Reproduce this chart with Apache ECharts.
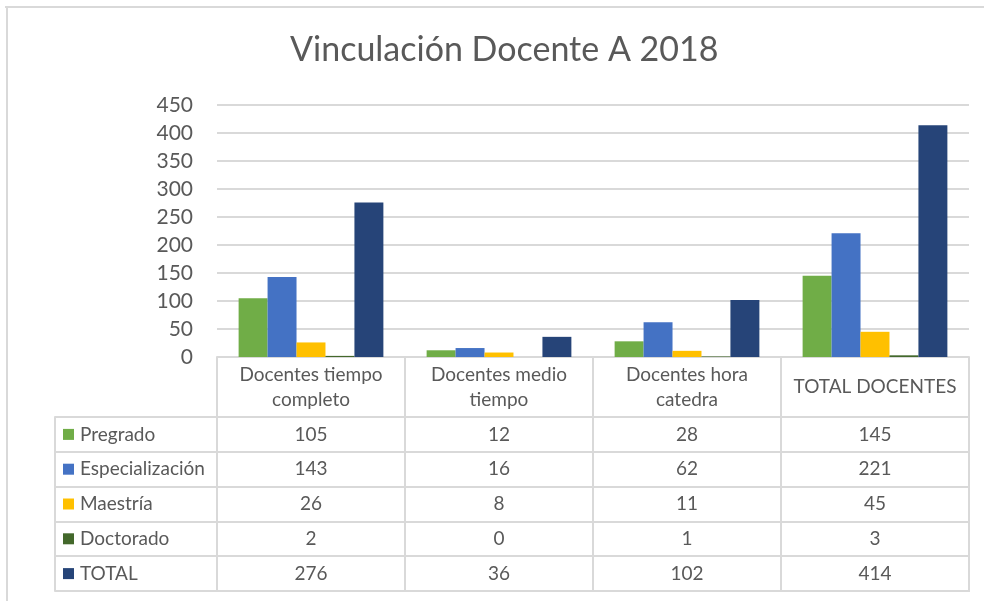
<!DOCTYPE html>
<html>
<head>
<meta charset="utf-8">
<script src="https://cdn.jsdelivr.net/npm/echarts@6/dist/echarts.min.js"></script>
<style>html,body{margin:0;padding:0;background:#fff;}#c{width:984px;height:601px;}</style>
</head>
<body>
<div id="c"></div>
<script>
const titleText = 'Vinculación Docente A 2018';
const categories = ['Docentes tiempo\ncompleto', 'Docentes medio\ntiempo', 'Docentes hora\ncatedra', 'TOTAL DOCENTES'];
const seriesNames = ['Pregrado', 'Especialización', 'Maestría', 'Doctorado', 'TOTAL'];
const pregrado = [105, 12, 28, 145];
const especializacion = [143, 16, 62, 221];
const maestria = [26, 8, 11, 45];
const doctorado = [2, 0, 1, 3];
const total = [276, 36, 102, 414];
const yTicks = [0, 50, 100, 150, 200, 250, 300, 350, 400, 450];
const colors = ['#70AD47', '#4472C4', '#FFC000', '#43682B', '#264478'];

const allValues = [pregrado, especializacion, maestria, doctorado, total];
const font = 'Lato, "Open Sans", sans-serif';
const txt = '#595959';
const lineC = '#d9d9d9';

const tableData = [];
allValues.forEach((arr, j) => arr.forEach((v, i) => tableData.push([i, j, v])));

const rich = { t: { fontSize: 19, color: txt, fontFamily: font, padding: [0, 0, 0, 6] } };
colors.forEach((c, i) => { rich['s' + i] = { width: 11, height: 11, backgroundColor: c }; });

const chart = echarts.init(document.getElementById('c'));
chart.setOption({
  animation: false,
  backgroundColor: '#fff',
  title: {
    text: titleText, left: 290, top: 33, padding: 0,
    textStyle: { fontSize: 34, fontWeight: 'normal', color: txt, fontFamily: font }
  },
  graphic: [
    { type: 'line', shape: { x1: 5, y1: 7, x2: 984, y2: 7 }, style: { stroke: lineC, lineWidth: 2 } },
    { type: 'line', shape: { x1: 7, y1: 7, x2: 7, y2: 601 }, style: { stroke: lineC, lineWidth: 2 } }
  ],
  grid: [
    { left: 217, right: 15, top: 105, bottom: 244 },
    { left: 217, right: 15, top: 417, bottom: 10, show: true, borderColor: lineC, borderWidth: 2, backgroundColor: 'transparent' }
  ],
  xAxis: [
    {
      type: 'category', gridIndex: 0, data: categories,
      axisLine: { show: true, lineStyle: { color: lineC, width: 2 } },
      axisTick: { show: true, interval: 0, length: 60, lineStyle: { color: lineC, width: 2 } },
      axisLabel: { interval: 0, margin: 30, verticalAlign: 'middle', fontSize: 19, lineHeight: 25, color: txt, fontFamily: font }
    },
    {
      type: 'category', gridIndex: 1, data: categories,
      axisLine: { show: false }, axisTick: { show: false }, axisLabel: { show: false },
      splitLine: { show: true, interval: 0, lineStyle: { color: lineC, width: 2 } }
    }
  ],
  yAxis: [
    {
      type: 'value', gridIndex: 0, min: 0, max: 450, interval: 50,
      axisLine: { show: false }, axisTick: { show: false },
      axisLabel: { fontSize: 21, color: txt, fontFamily: font, margin: 24,
        formatter: v => yTicks.includes(v) ? String(v) : '' },
      splitLine: { lineStyle: { color: lineC, width: 2 } }
    },
    {
      type: 'category', gridIndex: 1, data: seriesNames, inverse: true,
      axisLine: { show: true, lineStyle: { color: lineC, width: 2 } },
      axisTick: { show: true, interval: 0, length: 162, lineStyle: { color: lineC, width: 2 } },
      axisLabel: { align: 'left', margin: 154, interval: 0, rich: rich,
        formatter: (v, i) => '{s' + i + '|}{t|' + v + '}' },
      splitLine: { show: true, interval: 0, lineStyle: { color: lineC, width: 2 } }
    },
    {
      type: 'category', gridIndex: 1, data: seriesNames, inverse: true, position: 'left', offset: 162,
      axisLine: { show: true, lineStyle: { color: lineC, width: 2 } },
      axisTick: { show: false }, axisLabel: { show: false }
    }
  ],
  series: seriesNames.map((name, j) => ({
    name: name, type: 'bar', xAxisIndex: 0, yAxisIndex: 0,
    data: allValues[j], barGap: '0%', barCategoryGap: '23%',
    itemStyle: { color: colors[j] }
  })).concat([{
    type: 'custom', xAxisIndex: 1, yAxisIndex: 1, data: tableData,
    renderItem: (params, api) => {
      const p = api.coord([api.value(0), api.value(1)]);
      return { type: 'text', x: p[0], y: p[1],
        style: { text: String(api.value(2)), fill: txt, fontSize: 19, fontFamily: font, align: 'center', verticalAlign: 'middle' } };
    }
  }])
});
</script>
</body>
</html>
